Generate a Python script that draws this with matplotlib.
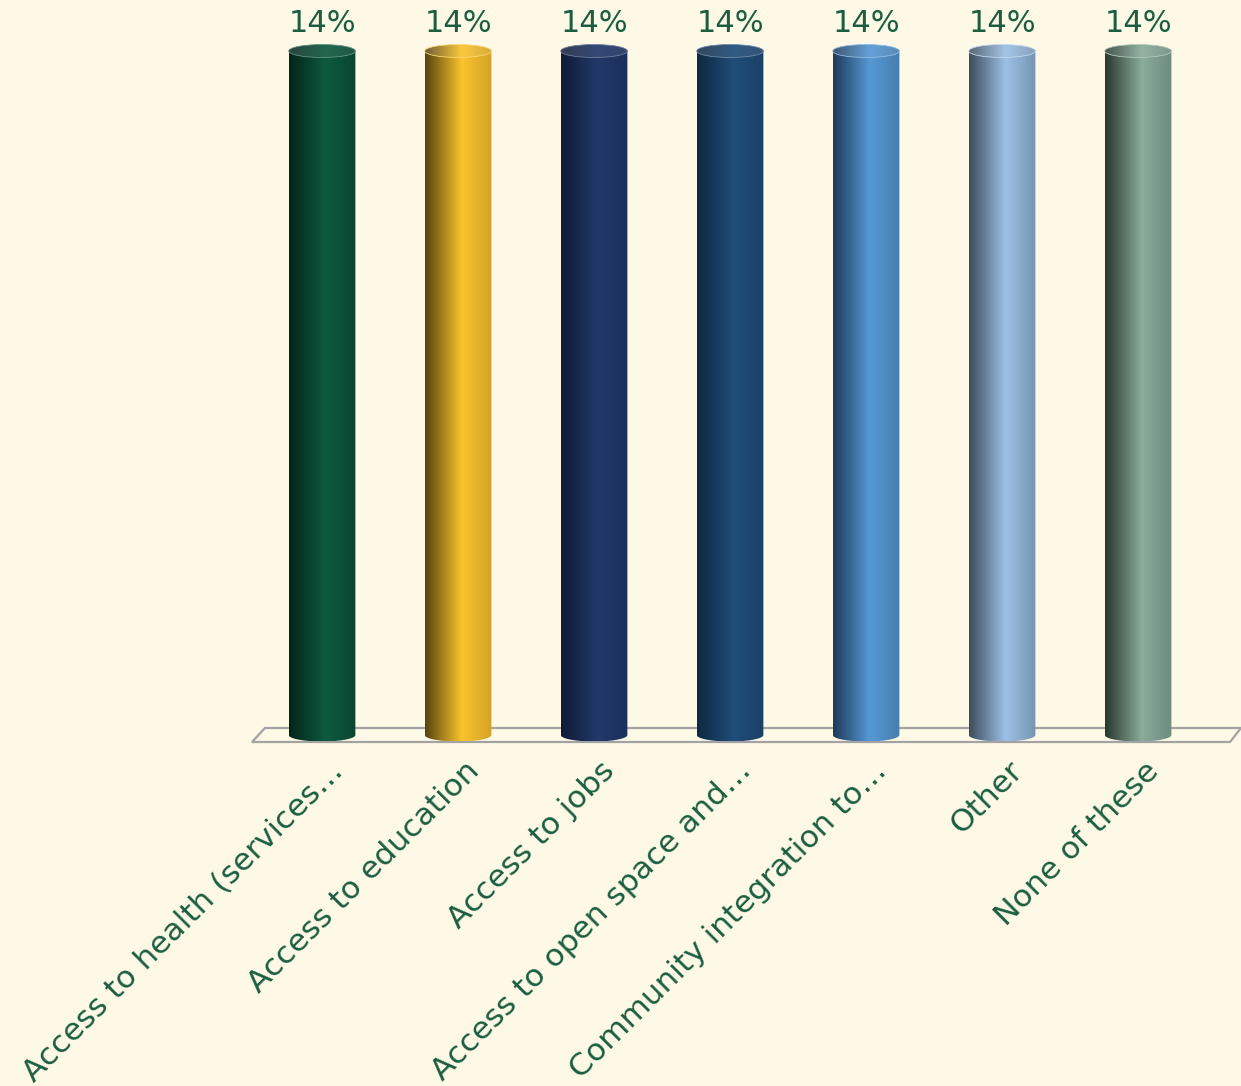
import numpy as np
import matplotlib.pyplot as plt
from matplotlib.colors import LinearSegmentedColormap, to_rgb
from matplotlib.patches import Ellipse, Polygon, PathPatch
from matplotlib.path import Path

# chart data
categories = [
    "Access to health (services\u2026",
    "Access to education",
    "Access to jobs",
    "Access to open space and\u2026",
    "Community integration to\u2026",
    "Other",
    "None of these",
]
values = [14, 14, 14, 14, 14, 14, 14]
value_labels = ["14%"] * 7

# (dark edge, highlight, right side) for each cylinder
bar_colors = [
    ("#03241a", "#0f5a3f", "#0a4531"),
    ("#574310", "#fac42d", "#d4a126"),
    ("#0f1b35", "#22396a", "#1b305c"),
    ("#0e2840", "#204d79", "#1a4168"),
    ("#1d3a5a", "#5799d5", "#487dae"),
    ("#3c4d5e", "#9dc1e5", "#7794b2"),
    ("#29382f", "#8aac9a", "#6d8b7e"),
]

bg = "#fef8e7"
text_color = "#1b5e3f"

W, H = 1241, 1086
fig = plt.figure(figsize=(W / 100, H / 100), dpi=100)
fig.patch.set_facecolor(bg)

ymax = 14
base_px, top_px = 735, 51
ppu = (base_px - top_px) / ymax  # pixels per data unit
pad = 20  # px of room above/below so the rounded ends are not clipped
ax = fig.add_axes([252 / W, (H - base_px - pad) / H, 978 / W, (base_px - top_px + 2 * pad) / H])
ax.set_facecolor("none")
ax.axis("off")

# floor of the 3d plot
floor = Polygon(
    [(252 / W, 1 - 742 / H), (265 / W, 1 - 728 / H), (1241 / W, 1 - 728 / H), (1230 / W, 1 - 742 / H)],
    closed=True, transform=fig.transFigure, facecolor=bg, edgecolor="#a3a3a3", lw=1.6, zorder=-1)
fig.patches.append(floor)

x = np.arange(len(categories))
bars = ax.bar(x, values, width=0.49, color="none", edgecolor="none")

ry = 6.5 / ppu  # half height of cylinder ellipse in data units


def lighten(c, f):
    r = np.array(to_rgb(c))
    return tuple(r + (1 - r) * f)


for rect, cols in zip(bars, bar_colors):
    xl = rect.get_x()
    w = rect.get_width()
    h = rect.get_height()
    xc = xl + w / 2
    cmap = LinearSegmentedColormap.from_list("cyl", [(0, cols[0]), (0.55, cols[1]), (1, cols[2])])
    grad = np.linspace(0, 1, 256).reshape(1, -1)

    # body with rounded bottom
    t = np.linspace(np.pi, 2 * np.pi, 60)
    verts = [(xc + w / 2 * np.cos(a), ry * np.sin(a)) for a in t]
    verts += [(xl + w, h), (xl, h), verts[0]]
    codes = [Path.MOVETO] + [Path.LINETO] * (len(verts) - 2) + [Path.CLOSEPOLY]
    clip = PathPatch(Path(verts, codes), transform=ax.transData, facecolor="none", edgecolor="none")
    ax.add_patch(clip)
    im = ax.imshow(grad, cmap=cmap, aspect="auto", extent=[xl, xl + w, -ry, h], zorder=2)
    im.set_clip_path(clip)

    # top face
    tcmap = LinearSegmentedColormap.from_list(
        "top", [(0, lighten(cols[0], 0.15)), (0.55, lighten(cols[1], 0.08)), (1, lighten(cols[2], 0.1))])
    top = Ellipse((xc, h), w, 2 * ry, transform=ax.transData, facecolor="none",
                  edgecolor=lighten(cols[1], 0.35), lw=0.6, zorder=4)
    ax.add_patch(top)
    tim = ax.imshow(grad, cmap=tcmap, aspect="auto", extent=[xl, xl + w, h - ry, h + ry], zorder=3)
    tim.set_clip_path(top)

for xi, v, lab in zip(x, values, value_labels):
    ax.annotate(lab, xy=(xi, v), xytext=(0, 27), textcoords="offset pixels",
                ha="center", va="center", fontsize=22, color=text_color, annotation_clip=False)

for xi, cat in zip(x, categories):
    ax.annotate(cat, xy=(xi, 0), xytext=(6, -21), textcoords="offset pixels",
                ha="right", va="top", rotation=45, rotation_mode="anchor",
                fontsize=22.5, color=text_color, annotation_clip=False)

ax.set_xlim(-0.515, 6.676)
ax.set_ylim(-pad / ppu, ymax + pad / ppu)

fig.savefig("out.png", dpi=100, facecolor=bg)
